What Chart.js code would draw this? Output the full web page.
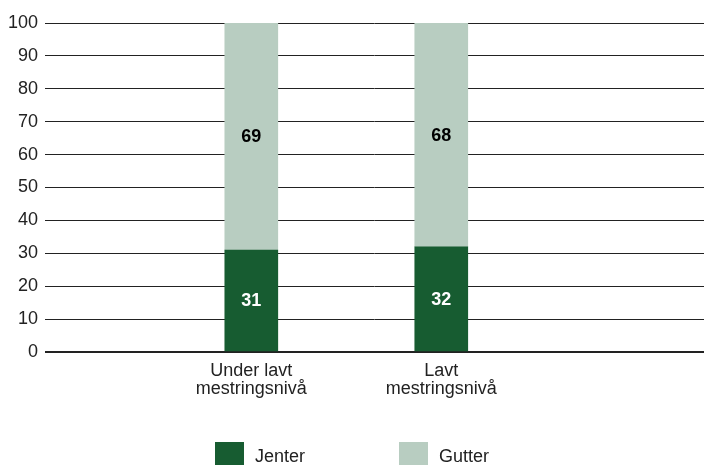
<!DOCTYPE html>
<html>
<head>
<meta charset="utf-8">
<script src="https://cdn.jsdelivr.net/npm/chart.js@4"></script>
<style>
    html, body { margin: 0; padding: 0; background: #fff; }
    #wrap { position: relative; width: 704px; height: 465px; overflow: hidden; }
    #legend { position: absolute; left: 215px; top: 442px; display: flex; font-family: "Liberation Sans", Arial, sans-serif; font-size: 18px; color: #222; }
    .item { display: flex; align-items: center; margin-right: 94px; }
    .box { width: 29px; height: 28px; margin-right: 11px; }
</style>
</head>
<body>
<div id="wrap">
    <canvas id="chart" width="704" height="465"></canvas>
    <div id="legend"></div>
</div>
<script>
let categories = ["Under lavt mestringsnivå", "Lavt mestringsnivå"];
let jenter = [31, 32];
let gutter = [69, 68];
let yTicks = [0, 10, 20, 30, 40, 50, 60, 70, 80, 90, 100];

let seriesNames = ["Jenter", "Gutter"];
let seriesColors = ["#175c31", "#b8cdc1"];
let labelColors = ["#ffffff", "#000000"];
let fontFamily = "'Liberation Sans', Arial, sans-serif";

function splitLabel(text) {
    let i = text.lastIndexOf(" ");
    return [text.slice(0, i), text.slice(i + 1)];
}

// skriver verdiene midt i hver stolpe
const valueLabels = {
    id: "valueLabels",
    afterDatasetsDraw(chart) {
        let ctx = chart.ctx;
        ctx.save();
        ctx.font = "bold 18px " + fontFamily;
        ctx.textAlign = "center";
        ctx.textBaseline = "middle";
        chart.data.datasets.forEach((ds, di) => {
            chart.getDatasetMeta(di).data.forEach((bar, i) => {
                let mid = (bar.y + bar.base) / 2;
                ctx.fillStyle = labelColors[di];
                ctx.fillText(ds.data[i].y, bar.x, mid + 1);
            });
        });
        ctx.restore();
    }
};

let ctx = document.getElementById("chart").getContext("2d");
new Chart(ctx, {
    type: "bar",
    data: {
        datasets: [
            { label: seriesNames[0], data: jenter.map((v, i) => ({ x: i, y: v })), backgroundColor: seriesColors[0] },
            { label: seriesNames[1], data: gutter.map((v, i) => ({ x: i, y: v })), backgroundColor: seriesColors[1] }
        ]
    },
    options: {
        responsive: false,
        animation: false,
        barThickness: 53,
        layout: { padding: { top: 23, right: 0, left: 0, bottom: 65 } },
        plugins: {
            legend: { display: false },
            tooltip: { enabled: false }
        },
        scales: {
            x: {
                type: "linear",
                stacked: true,
                offset: false,
                min: -1.086,
                max: 2.383,
                afterBuildTicks: function (scale) {
                    scale.ticks = categories.map((c, i) => ({ value: i }));
                },
                grid: { display: false },
                border: { display: false },
                ticks: {
                    autoSkip: false,
                    maxRotation: 0,
                    padding: 2,
                    color: "#222",
                    font: { family: fontFamily, size: 18, lineHeight: 1.0 },
                    callback: function (value) { return splitLabel(categories[value]); }
                }
            },
            y: {
                stacked: true,
                min: 0,
                max: 100,
                afterBuildTicks: function (scale) {
                    scale.ticks = yTicks.map(v => ({ value: v }));
                },
                afterFit: function (scale) { scale.width = 45; },
                grid: {
                    drawTicks: false,
                    color: "#222",
                    lineWidth: c => c.tick && c.tick.value === 0 ? 2 : 1
                },
                border: { display: false },
                ticks: {
                    padding: 7,
                    color: "#222",
                    font: { family: fontFamily, size: 18 }
                }
            }
        }
    },
    plugins: [valueLabels]
});

document.getElementById("legend").innerHTML = seriesNames.map((n, i) =>
    `<div class="item"><div class="box" style="background:${seriesColors[i]}"></div><span>${n}</span></div>`).join("");
</script>
</body>
</html>
